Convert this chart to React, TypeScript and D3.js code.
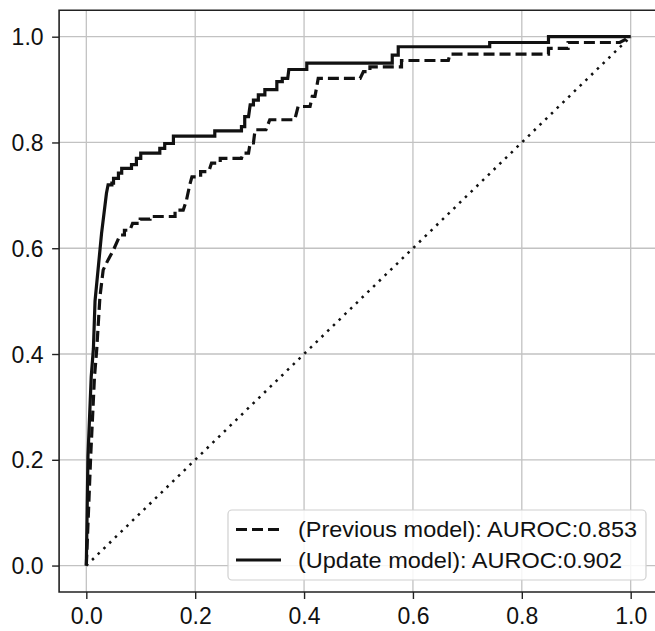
import React, { useRef, useEffect } from "react";
import * as d3 from "d3";

// ROC points: [fpr, tpr]
const updateModel: [number, number][] = [
  [0, 0], [0.003, 0.206], [0.009, 0.357], [0.013, 0.41], [0.016, 0.5],
  [0.028, 0.628], [0.037, 0.704], [0.04, 0.72], [0.047, 0.72], [0.047, 0.723],
  [0.05, 0.723], [0.05, 0.732], [0.059, 0.732], [0.059, 0.742], [0.065, 0.742],
  [0.065, 0.751], [0.083, 0.751], [0.083, 0.758], [0.092, 0.758], [0.092, 0.77],
  [0.1, 0.77], [0.1, 0.78], [0.135, 0.78], [0.135, 0.789], [0.144, 0.789],
  [0.144, 0.798], [0.16, 0.798], [0.16, 0.812], [0.236, 0.812], [0.236, 0.822],
  [0.285, 0.822], [0.285, 0.83], [0.291, 0.83], [0.291, 0.849], [0.298, 0.849],
  [0.301, 0.871], [0.307, 0.871], [0.307, 0.88], [0.316, 0.88], [0.316, 0.89],
  [0.328, 0.89], [0.328, 0.9], [0.35, 0.9], [0.35, 0.915], [0.36, 0.915],
  [0.36, 0.921], [0.37, 0.921], [0.372, 0.938], [0.405, 0.938], [0.405, 0.95],
  [0.562, 0.95], [0.562, 0.965], [0.573, 0.965], [0.573, 0.981], [0.741, 0.981],
  [0.741, 0.989], [0.849, 0.989], [0.849, 1.0], [1.0, 1.0],
];

const previousModel: [number, number][] = [
  [0, 0], [0.008, 0.206], [0.015, 0.357], [0.019, 0.407], [0.025, 0.508],
  [0.031, 0.559], [0.04, 0.578], [0.05, 0.597], [0.062, 0.625], [0.07, 0.625],
  [0.07, 0.634], [0.08, 0.634], [0.085, 0.647], [0.099, 0.647], [0.099, 0.655],
  [0.117, 0.655], [0.117, 0.66], [0.163, 0.66], [0.163, 0.672], [0.178, 0.672],
  [0.184, 0.691], [0.19, 0.72], [0.194, 0.735], [0.21, 0.735], [0.21, 0.745],
  [0.225, 0.745], [0.23, 0.761], [0.246, 0.761], [0.246, 0.77], [0.285, 0.77],
  [0.288, 0.78], [0.298, 0.78], [0.301, 0.799], [0.307, 0.799], [0.31, 0.824],
  [0.33, 0.824], [0.337, 0.843], [0.383, 0.843], [0.389, 0.868], [0.411, 0.868],
  [0.415, 0.887], [0.42, 0.887], [0.426, 0.921], [0.503, 0.921], [0.509, 0.934],
  [0.521, 0.934], [0.521, 0.943], [0.579, 0.943], [0.579, 0.955], [0.665, 0.955],
  [0.668, 0.967], [0.849, 0.967], [0.849, 0.978], [0.885, 0.978], [0.885, 0.989],
  [0.98, 0.989], [1.0, 1.0],
];

const chance: [number, number][] = [[0, 0], [1, 1]];

const tickValues = [0, 0.2, 0.4, 0.6, 0.8, 1.0];

const legendLabels = [
  "(Previous model): AUROC:0.853",
  "(Update model): AUROC:0.902",
];

const WIDTH = 655;
const HEIGHT = 631;
const FONT = "'Liberation Sans', Arial, sans-serif";

const App = () => {
  const svgRef = useRef<SVGSVGElement>(null);

  useEffect(() => {
    const svg = d3.select(svgRef.current);

    const x = d3.scaleLinear().domain([-0.05, 1.05]).range([59.1, 657.9]);
    const y = d3.scaleLinear().domain([-0.05, 1.05]).range([592, 10.25]);

    svg.append("rect").attr("width", WIDTH).attr("height", HEIGHT).attr("fill", "white");

    // grid
    const grid = svg.append("g").attr("stroke", "#c2c2c2").attr("stroke-width", 1.3);
    tickValues.forEach((t) => {
      grid.append("line")
        .attr("x1", x(t)).attr("x2", x(t))
        .attr("y1", y(1.05)).attr("y2", y(-0.05));
      grid.append("line")
        .attr("x1", x(-0.05)).attr("x2", x(1.05))
        .attr("y1", y(t)).attr("y2", y(t));
    });

    const line = d3.line<[number, number]>()
      .x((d) => x(d[0]))
      .y((d) => y(d[1]));

    svg.append("path")
      .datum(chance)
      .attr("fill", "none")
      .attr("stroke", "#111")
      .attr("stroke-width", 2.5)
      .attr("stroke-dasharray", "2.5 5.5")
      .attr("d", line);

    svg.append("path")
      .datum(previousModel)
      .attr("fill", "none")
      .attr("stroke", "#111")
      .attr("stroke-width", 3.2)
      .attr("stroke-dasharray", "11 5")
      .attr("d", line);

    svg.append("path")
      .datum(updateModel)
      .attr("fill", "none")
      .attr("stroke", "#111")
      .attr("stroke-width", 3.2)
      .attr("d", line);

    // spines (right one falls outside the picture)
    svg.append("path")
      .attr("fill", "none")
      .attr("stroke", "#222")
      .attr("stroke-width", 1.6)
      .attr("d", `M${x(1.05)},${y(1.05)}H${x(-0.05)}V${y(-0.05)}H${x(1.05)}`);

    // axes
    const xAxis = svg.append("g")
      .attr("transform", `translate(0, ${y(-0.05)})`)
      .call(d3.axisBottom(x).tickValues(tickValues).tickFormat(d3.format(".1f")).tickSize(7).tickSizeOuter(0));
    const yAxis = svg.append("g")
      .attr("transform", `translate(${x(-0.05)}, 0)`)
      .call(d3.axisLeft(y).tickValues(tickValues).tickFormat(d3.format(".1f")).tickSize(7).tickSizeOuter(0));

    [xAxis, yAxis].forEach((g) => {
      g.select(".domain").remove();
      g.selectAll(".tick line").attr("stroke", "#222").attr("stroke-width", 1.4);
      g.selectAll(".tick text")
        .attr("fill", "#111")
        .style("font-family", FONT)
        .style("font-size", "23px");
    });
    xAxis.selectAll(".tick text").attr("dy", "0.71em").attr("y", 15.5);
    yAxis.selectAll(".tick text").attr("x", -15.5).attr("dy", "0.35em");

    // legend
    const legend = svg.append("g");
    legend.append("rect")
      .attr("x", 228).attr("y", 510)
      .attr("width", 418).attr("height", 70)
      .attr("rx", 4)
      .attr("fill", "white").attr("fill-opacity", 0.85)
      .attr("stroke", "#d0d0d0").attr("stroke-width", 1.2);

    const textWidths = [339, 324];
    legendLabels.forEach((label, idx) => {
      const cy = 529.5 + idx * 30.5;
      legend.append("line")
        .attr("x1", 236).attr("x2", 281)
        .attr("y1", cy).attr("y2", cy)
        .attr("stroke", "#111")
        .attr("stroke-width", 3.2)
        .attr("stroke-dasharray", idx === 0 ? "11 5" : null);
      legend.append("text")
        .attr("x", 298)
        .attr("y", cy)
        .attr("dy", "0.35em")
        .attr("fill", "#111")
        .attr("textLength", textWidths[idx])
        .attr("lengthAdjust", "spacingAndGlyphs")
        .style("font-family", FONT)
        .style("font-size", "21.5px")
        .text(label);
    });

    return () => {
      svg.selectAll("*").remove();
    };
  }, []);

  return (
    <div style={{ position: "absolute", left: 0, top: 0 }}>
      <svg ref={svgRef} width={WIDTH} height={HEIGHT} style={{ display: "block" }}></svg>
    </div>
  );
};

export default App;
